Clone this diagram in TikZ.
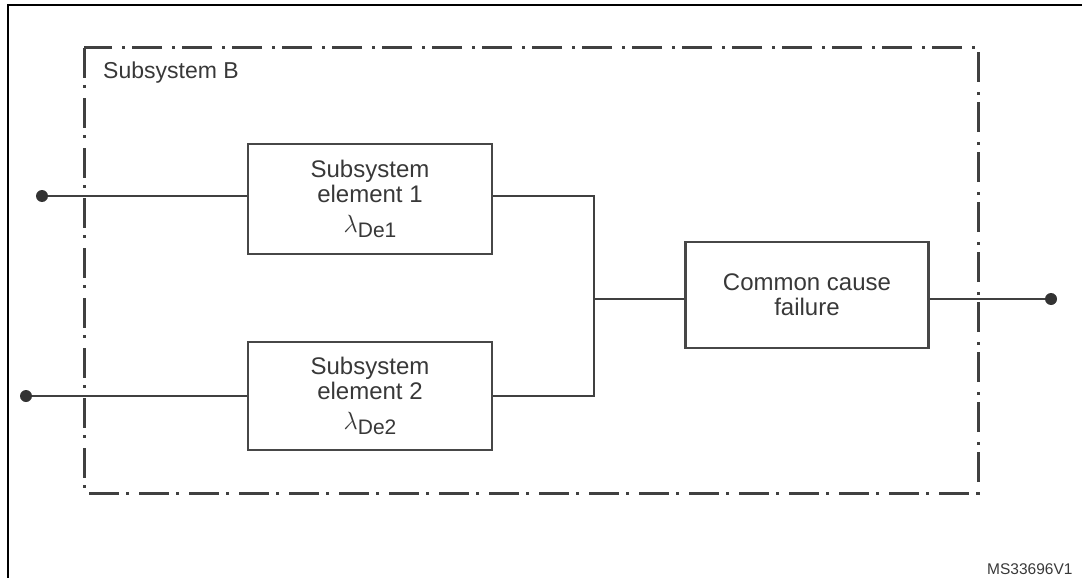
\documentclass[tikz,border=0pt]{standalone}
\usepackage{fontspec}
\setmainfont{Liberation Sans}
\begin{document}
\begin{tikzpicture}[x=1pt,y=-1pt,
  ink/.style={draw=black!75},
  wire/.style={ink,line width=2.2pt},
  blk/.style={draw=black!72,line width=2.2pt,rectangle,inner sep=0pt,
    align=center,text=black!78,font=\fontsize{24}{25}\selectfont},
  bound/.style={draw=black!75,line width=3pt,
    dash pattern=on 30pt off 7pt on 3pt off 10pt},
  lbl/.style={text=black!78,inner sep=0pt,anchor=base west},
  pin/.style={fill=black!80}]
  \useasboundingbox (0,0) rectangle (1082,578);
  % outer frame, running off the page on the right and at the bottom
  \begin{scope}
    \clip (0,0) rectangle (1082,578);
    \draw[line width=2pt] (8,600) -- (8,5) -- (1100,5);
  \end{scope}

  % subsystem boundary
  \draw[bound] (84,48) rectangle (978,493);
  \node[lbl,font=\fontsize{23}{23}\selectfont] (title) at (103,79) {Subsystem B};

  % blocks
  \node[blk,minimum width=244pt,minimum height=110pt] (e1) at (370,199)
    {Subsystem\\element 1\\[5pt]{\fontsize{32}{32}\selectfont$\lambda$}\raisebox{-5pt}{\fontsize{21}{21}\selectfont De1}};
  \node[blk,minimum width=244pt,minimum height=108pt] (e2) at (370,396)
    {Subsystem\\element 2\\[5pt]{\fontsize{32}{32}\selectfont$\lambda$}\raisebox{-5pt}{\fontsize{21}{21}\selectfont De2}};
  \node[blk,minimum width=243pt,minimum height=106pt] (ccf) at (807,295)
    {Common cause\\failure};

  % terminals and junction
  \coordinate (in1) at (42,196);
  \coordinate (in2) at (26,396);
  \coordinate (j) at (594,299);
  \coordinate (out) at (1051,299);

  % connections
  \draw[wire] (in1) -- (in1 -| e1.west);
  \draw[wire] (in2) -- (in2 -| e2.west);
  \draw[wire] (in1 -| e1.east) -| (j) |- (in2 -| e2.east);
  \draw[wire] (j) -- (j -| ccf.west);
  \draw[wire] (out -| ccf.east) -- (out);
  \fill[pin] (in1) circle (6pt);
  \fill[pin] (in2) circle (6pt);
  \fill[pin] (out) circle (6pt);

  \node[lbl,font=\fontsize{15.5}{15.5}\selectfont] (ref) at (987,574) {MS33696V1};
\end{tikzpicture}
\end{document}
